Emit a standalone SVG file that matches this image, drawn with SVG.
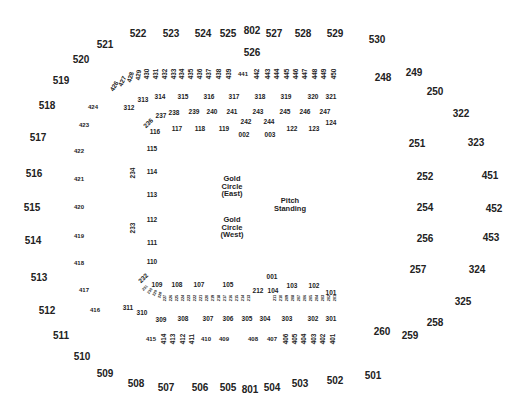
<svg xmlns="http://www.w3.org/2000/svg" width="525" height="414" viewBox="0 0 525 414">
<style>
text{font-family:"Liberation Sans",Arial,sans-serif;font-weight:bold;fill:#222;text-anchor:middle;dominant-baseline:central}
.l5{font-size:10px}
.l3{font-size:6.5px}
.l4{font-size:6px}
.r{font-size:6.4px}
.t{font-size:3.8px}
.g{font-size:7.5px}
</style>
<rect width="525" height="414" fill="#fff"/>
<g id="ring500" class="l5">
<text x="138" y="33">522</text><text x="171" y="33">523</text><text x="203" y="33">524</text><text x="228" y="33">525</text><text x="252" y="30">802</text><text x="274" y="33">527</text><text x="303" y="33">528</text><text x="335" y="33">529</text><text x="377" y="39">530</text><text x="252" y="52">526</text>
<text x="105" y="44">521</text><text x="81" y="59">520</text><text x="61" y="80">519</text><text x="47" y="105">518</text><text x="38" y="137">517</text><text x="34" y="173">516</text><text x="32" y="207">515</text><text x="33" y="240">514</text><text x="39" y="277">513</text><text x="47" y="310">512</text><text x="61" y="335">511</text><text x="82" y="356">510</text>
<text x="105" y="373">509</text><text x="136" y="383">508</text><text x="166" y="387">507</text><text x="200" y="387">506</text><text x="228" y="387">505</text><text x="250" y="389">801</text><text x="272" y="387">504</text><text x="300" y="383">503</text><text x="335" y="380">502</text><text x="373" y="375">501</text>
<text x="383" y="77">248</text><text x="414" y="72">249</text><text x="435" y="91">250</text><text x="461" y="113">322</text><text x="417" y="143">251</text><text x="476" y="142">323</text><text x="425" y="176">252</text><text x="490" y="175">451</text><text x="425" y="207">254</text><text x="494" y="208">452</text><text x="425" y="238">256</text><text x="491" y="237">453</text><text x="418" y="269">257</text><text x="477" y="269">324</text><text x="463" y="301">325</text><text x="435" y="322">258</text><text x="382" y="331">260</text><text x="410" y="335">259</text>
</g>
<g id="ring400" class="l4">
<text x="93" y="107">424</text><text x="84" y="125">423</text><text x="79" y="151">422</text><text x="79" y="179">421</text><text x="79" y="207">420</text><text x="79" y="236">419</text><text x="79" y="263">418</text><text x="84" y="290">417</text><text x="95" y="310">416</text>
<g class="r">
<text transform="translate(114,86) rotate(-60)">426</text><text transform="translate(122,81) rotate(-65)">427</text><text transform="translate(130,77) rotate(-75)">428</text><text transform="translate(138,75) rotate(-85)">429</text>
<text transform="translate(146,74) rotate(-90)">430</text><text transform="translate(155,74) rotate(-90)">431</text><text transform="translate(164,74) rotate(-90)">432</text><text transform="translate(173,74) rotate(-90)">433</text><text transform="translate(181,74) rotate(-90)">434</text><text transform="translate(190,74) rotate(-90)">435</text><text transform="translate(199,74) rotate(-90)">436</text><text transform="translate(208,74) rotate(-90)">437</text><text transform="translate(218,74) rotate(-90)">438</text><text transform="translate(228,74) rotate(-90)">439</text>
<text transform="translate(256,74) rotate(-90)">442</text><text transform="translate(267,74) rotate(-90)">443</text><text transform="translate(276,74) rotate(-90)">444</text><text transform="translate(286,74) rotate(-90)">445</text><text transform="translate(295,74) rotate(-90)">446</text><text transform="translate(304,74) rotate(-90)">447</text><text transform="translate(314,74) rotate(-90)">448</text><text transform="translate(323,74) rotate(-90)">449</text><text transform="translate(333,74) rotate(-90)">450</text>
<text transform="translate(163,339) rotate(-90)">414</text><text transform="translate(172,339) rotate(-90)">413</text><text transform="translate(182,339) rotate(-90)">412</text><text transform="translate(191,339) rotate(-90)">411</text>
<text transform="translate(285,339) rotate(-90)">406</text><text transform="translate(294,339) rotate(-90)">405</text><text transform="translate(303,339) rotate(-90)">404</text><text transform="translate(313,339) rotate(-90)">403</text><text transform="translate(322,339) rotate(-90)">402</text><text transform="translate(332,339) rotate(-90)">401</text>
</g>
<text x="243" y="74">441</text>
<text x="151" y="339">415</text>
<text x="206" y="339">410</text><text x="224" y="339">409</text><text x="253" y="339">408</text><text x="272" y="339">407</text>
</g>
<g id="ring300" class="l3">
<text x="129" y="107">312</text><text x="143" y="99">313</text><text x="160" y="96">314</text><text x="183" y="96">315</text><text x="209" y="96">316</text><text x="234" y="96">317</text><text x="260" y="96">318</text><text x="286" y="96">319</text><text x="313" y="96">320</text><text x="331" y="96">321</text>
<text x="128" y="307">311</text><text x="142" y="312">310</text><text x="161" y="319">309</text><text x="183" y="318">308</text><text x="208" y="318">307</text><text x="228" y="318">306</text><text x="247" y="318">305</text><text x="265" y="318">304</text><text x="287" y="318">303</text><text x="313" y="318">302</text><text x="331" y="318">301</text>
</g>
<g id="ring200" class="l3">
<text transform="translate(148,123) rotate(-45)">236</text><text x="161" y="115">237</text><text x="174" y="112">238</text><text x="194" y="111">239</text><text x="212" y="111">240</text><text x="232" y="111">241</text><text x="246" y="121">242</text><text x="258" y="111">243</text><text x="269" y="121">244</text><text x="285" y="111">245</text><text x="305" y="111">246</text><text x="325" y="111">247</text>
<text transform="translate(132,173) rotate(-90)">234</text><text transform="translate(132,228) rotate(-90)">233</text>
<text transform="translate(143,278) rotate(-45)">232</text>
<text x="258" y="290">212</text>
</g>
<g id="row200small" class="t">
<text transform="translate(145,288) rotate(-45)">231</text><text transform="translate(150,291) rotate(-55)">230</text><text transform="translate(155,293) rotate(-65)">229</text><text transform="translate(160,295) rotate(-75)">228</text>
<text transform="translate(165,298) rotate(-90)">227</text><text transform="translate(171,298) rotate(-90)">226</text><text transform="translate(177,298) rotate(-90)">225</text><text transform="translate(183,298) rotate(-90)">224</text><text transform="translate(189,298) rotate(-90)">223</text><text transform="translate(195,298) rotate(-90)">222</text><text transform="translate(201,298) rotate(-90)">221</text><text transform="translate(207,298) rotate(-90)">220</text><text transform="translate(213,298) rotate(-90)">219</text><text transform="translate(219,298) rotate(-90)">218</text><text transform="translate(225,298) rotate(-90)">217</text><text transform="translate(231,298) rotate(-90)">216</text><text transform="translate(237,298) rotate(-90)">215</text><text transform="translate(243,298) rotate(-90)">214</text><text transform="translate(249,298) rotate(-90)">213</text>
<text transform="translate(275,298) rotate(-90)">211</text><text transform="translate(281,298) rotate(-90)">210</text><text transform="translate(287,298) rotate(-90)">209</text><text transform="translate(293,298) rotate(-90)">208</text><text transform="translate(299,298) rotate(-90)">207</text><text transform="translate(305,298) rotate(-90)">206</text><text transform="translate(311,298) rotate(-90)">205</text><text transform="translate(317,298) rotate(-90)">204</text><text transform="translate(323,298) rotate(-90)">203</text><text transform="translate(329,298) rotate(-90)">202</text><text transform="translate(335,298) rotate(-90)">201</text>
</g>
<g id="ring100" class="l3">
<text x="155" y="131">116</text><text x="177" y="128">117</text><text x="200" y="128">118</text><text x="224" y="128">119</text><text x="244" y="134">002</text><text x="270" y="134">003</text><text x="292" y="128">122</text><text x="314" y="128">123</text><text x="331" y="122">124</text>
<text x="152" y="148">115</text><text x="152" y="171">114</text><text x="152" y="194">113</text><text x="152" y="219">112</text><text x="152" y="242">111</text><text x="152" y="261">110</text>
<text x="157" y="284">109</text><text x="177" y="284">108</text><text x="199" y="284">107</text><text x="228" y="284">105</text><text x="272" y="276">001</text><text x="273" y="290">104</text><text x="292" y="285">103</text><text x="314" y="285">102</text><text x="331" y="292">101</text>
</g>
<g id="floor" class="g">
<text x="232" y="178">Gold</text><text x="232" y="186">Circle</text><text x="232" y="193.5">(East)</text>
<text x="232" y="219">Gold</text><text x="232" y="227">Circle</text><text x="232" y="234.5">(West)</text>
<text x="290" y="200">Pitch</text><text x="290" y="208.5">Standing</text>
</g>
</svg>
